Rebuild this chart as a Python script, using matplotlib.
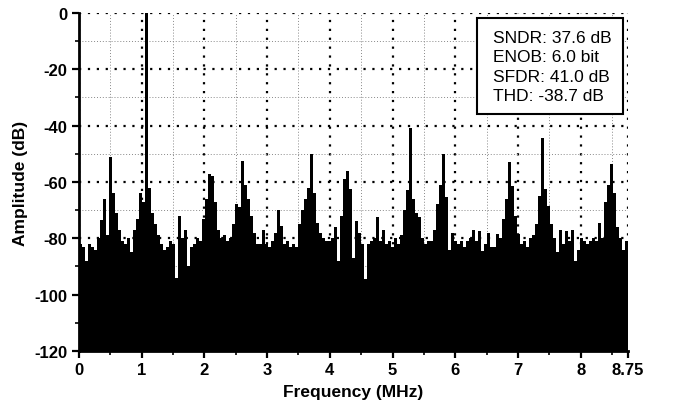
import matplotlib
matplotlib.use("Agg")
import matplotlib.pyplot as plt
import numpy as np
from matplotlib.patches import Rectangle
from matplotlib.ticker import MultipleLocator, FixedLocator

plt.rcParams["axes.unicode_minus"] = False

# FFT spectrum, one value per bin (dB)
amplitude_db = [
    -82, -83, -88, -82, -83, -84, -80, -73.5, -66, -79,
    -51, -64, -71, -77, -81, -82, -80, -85, -77, -73,
    -64, -67, 0, -62, -71, -75, -79, -82, -84, -83,
    -81, -82, -94, -72, -80, -77, -90, -83, -82, -80,
    -81, -73, -66, -57, -58, -67, -77, -80, -79, -81,
    -80, -75, -68, -69, -52.5, -61, -66, -72, -78, -82,
    -82, -77, -82, -83, -81, -78, -70, -75.5, -82, -81,
    -83, -82, -83, -75, -70, -66, -62, -50, -64, -74.5,
    -78, -80, -81, -81, -80, -76, -88, -72, -59, -56,
    -62.5, -87, -74, -78, -82, -94.5, -82, -81, -80, -72.5,
    -81, -77, -82, -81, -83, -80, -82, -79, -70, -63,
    -41, -66, -71, -72.5, -80, -82, -81, -81, -77, -68,
    -61, -50, -65.5, -84, -78, -81, -82, -81, -83, -81,
    -80, -77, -81, -77.5, -84.5, -82, -78, -83, -83, -78.5,
    -80, -73, -66, -53, -61.5, -72, -78.5, -82, -81, -83,
    -80, -79, -75, -65, -44.5, -62.5, -68.5, -75, -80, -85,
    -77, -82, -77.5, -81, -77, -88, -84, -80, -81, -82,
    -81, -80, -81, -74.5, -80, -67, -61, -53.5, -64, -76,
    -80, -84, -81,
]
f_max = 8.75  # MHz, Nyquist
x_ticks = [0, 1, 2, 3, 4, 5, 6, 7, 8, 8.75]
x_tick_labels = ["0", "1", "2", "3", "4", "5", "6", "7", "8", "8.75"]
y_ticks = [0, -20, -40, -60, -80, -100, -120]
metrics = ["SNDR: 37.6 dB", "ENOB: 6.0 bit", "SFDR: 41.0 dB", "THD: -38.7 dB"]

n_bins = len(amplitude_db)
df = f_max / n_bins
freq = np.arange(n_bins) * df

fig = plt.figure(figsize=(6.73, 4.10), dpi=100)
ax = fig.add_axes([0.117, 0.1415, 0.816, 0.8245])

bottom = -120
heights = np.array(amplitude_db) - bottom
ax.bar(freq, heights, width=df, bottom=bottom, align="edge",
       color="black", edgecolor="none", zorder=3)

ax.set_xlim(0, f_max)
ax.set_ylim(-120, 0)

# grid: heavy dotted on majors, fine grey dotted on minors
ax.xaxis.set_major_locator(FixedLocator(x_ticks))
ax.xaxis.set_minor_locator(MultipleLocator(0.5))
ax.yaxis.set_major_locator(FixedLocator(y_ticks))
ax.yaxis.set_minor_locator(MultipleLocator(10))
ax.grid(which="major", color="black", linestyle=(0, (1, 3)), linewidth=1.6, zorder=1)
ax.grid(which="minor", color="#888888", linestyle=(0, (1, 2)), linewidth=0.7, zorder=1)

ax.set_xticklabels(x_tick_labels)
for s in ["top", "right"]:
    ax.spines[s].set_visible(False)
for s in ["left", "bottom"]:
    ax.spines[s].set_linewidth(2)
ax.tick_params(which="major", direction="out", length=5, width=1.6, pad=3)
ax.tick_params(which="minor", direction="out", length=3, width=1.2)

tick_font = dict(family=["Liberation Sans", "DejaVu Sans"], weight="bold", size=12)
for lab in ax.get_xticklabels() + ax.get_yticklabels():
    lab.set_fontproperties(tick_font)

label_font = dict(family=["Liberation Sans", "DejaVu Sans"], weight="bold", size=12.5)
ax.set_xlabel("Frequency (MHz)", fontdict=label_font, labelpad=5)
ax.set_ylabel("Amplitude (dB)", fontdict=label_font, labelpad=5)

# metrics box
ax.add_patch(Rectangle((0.725, 0.701), 0.266, 0.284, transform=ax.transAxes,
                       facecolor="white", edgecolor="black", linewidth=1.5,
                       zorder=5))
ax.text(0.754, 0.95, "\n".join(metrics), transform=ax.transAxes,
        ha="left", va="top", fontsize=12.5, linespacing=1.37,
        family=["Liberation Sans", "DejaVu Sans"], zorder=6)

plt.savefig("out.png", dpi=100)
